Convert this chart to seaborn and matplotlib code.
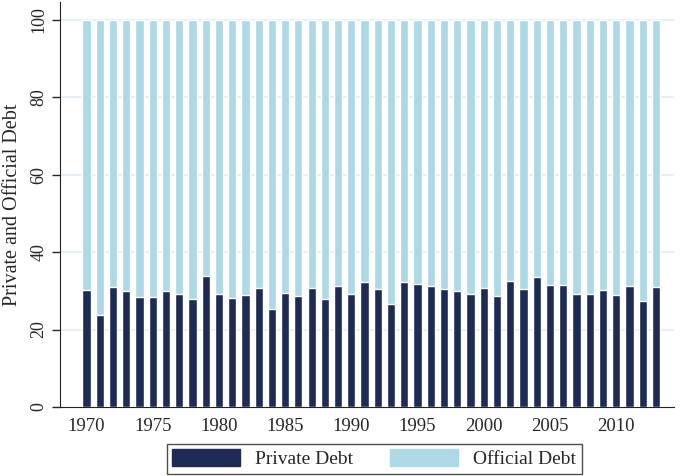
import pandas as pd
import numpy as np
import seaborn as sns
import matplotlib.pyplot as plt
from matplotlib.patches import Patch

years = list(range(1970, 2014))
private = [30.3, 23.7, 31.0, 30.0, 28.3, 28.4, 29.9, 29.2, 27.8, 33.9,
           29.2, 28.2, 29.0, 30.7, 25.2, 29.4, 28.6, 30.7, 27.8, 31.2,
           29.3, 32.2, 30.5, 26.6, 32.3, 31.7, 31.3, 30.4, 30.0, 29.3,
           30.6, 28.7, 32.6, 30.5, 33.5, 31.5, 31.6, 29.2, 29.1, 30.3,
           29.0, 31.2, 27.3, 30.9]
total = [100] * len(years)

dark = '#1d2b55'
light = '#add8e6'

data = pd.DataFrame({'year': years, 'private': private, 'total': total})

sns.set_style('white')
plt.rcParams['font.family'] = ['Liberation Serif', 'DejaVu Serif']

fig = plt.figure(figsize=(6.85, 4.76), dpi=100)
ax = fig.add_axes([0.0876, 0.145, 0.897, 0.851])

sns.barplot(data=data, x='year', y='total', native_scale=True, color=light,
            saturation=1, width=0.62, ax=ax, zorder=2)
sns.barplot(data=data, x='year', y='private', native_scale=True, color=dark,
            saturation=1, width=0.62, ax=ax, zorder=3)

ax.set_xlim(1968.0, 2014.4)
ax.set_ylim(0, 104.6)
ax.set_yticks([0, 20, 40, 60, 80, 100])
ax.set_xticks([1970, 1975, 1980, 1985, 1990, 1995, 2000, 2005, 2010])
for y in [20, 40, 60, 80, 100]:
    ax.axhline(y, color='#e6f0f2', lw=1.5, zorder=1)
ax.tick_params(axis='y', length=6, width=1, labelsize=13, pad=3, direction='out', left=True)
ax.tick_params(axis='x', length=0, labelsize=13.5, pad=8)
for lab in ax.get_yticklabels():
    lab.set_rotation(90)
    lab.set_va('center')
ax.set_xlabel('')
ax.set_ylabel('Private and Official Debt', fontsize=14.5, labelpad=6)
sns.despine(ax=ax)
ax.spines['left'].set_color('#222222')
ax.spines['bottom'].set_color('#222222')

handles = [Patch(facecolor=dark, edgecolor=dark), Patch(facecolor=light, edgecolor=light)]
leg = fig.legend(handles, ['Private Debt', 'Official Debt'], loc='center',
                 bbox_to_anchor=(0.546, 0.036), ncol=2, frameon=True, fancybox=False,
                 edgecolor='#222222', fontsize=14, handlelength=3.5, handleheight=0.9,
                 columnspacing=1.9, borderpad=0.3, handletextpad=0.75)
leg.get_frame().set_linewidth(1)

fig.savefig('out.png', dpi=100)
